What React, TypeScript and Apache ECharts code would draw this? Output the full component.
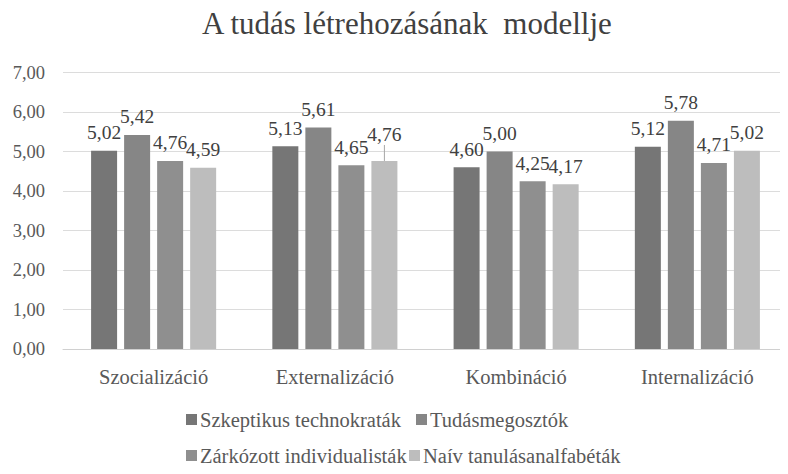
import React, { useEffect, useRef } from "react";
import * as echarts from "echarts";

const title = "A tudás létrehozásának  modellje";
const categories = ["Szocializáció", "Externalizáció", "Kombináció", "Internalizáció"];
const seriesNames = [
  "Szkeptikus technokraták",
  "Tudásmegosztók",
  "Zárkózott individualisták",
  "Naív tanulásanalfabéták",
];
const szkeptikus = [5.02, 5.13, 4.6, 5.12];
const tudasmegosztok = [5.42, 5.61, 5.0, 5.78];
const zarkozott = [4.76, 4.65, 4.25, 4.71];
const naiv = [4.59, 4.76, 4.17, 5.02];
const seriesValues = [szkeptikus, tudasmegosztok, zarkozott, naiv];
const colors = ["#767676", "#868686", "#8f8f8f", "#bdbdbd"];

const FONT = "'Times New Roman', 'Liberation Serif', Tinos, 'DejaVu Serif'";
const fmt = (v: number) => v.toFixed(2).replace(".", ",");

export default function App() {
  const ref = useRef<HTMLDivElement>(null);
  useEffect(() => {
    if (!ref.current) return;
    const chart = echarts.init(ref.current, undefined, { renderer: "svg" });
    const legendPos = [
      { left: 186, top: 409 },
      { left: 416, top: 409 },
      { left: 186, top: 445 },
      { left: 409, top: 445 },
    ];
    chart.setOption({
      animation: false,
      backgroundColor: "#ffffff",
      textStyle: { fontFamily: FONT },
      title: {
        text: title,
        left: 202,
        top: 8,
        padding: 0,
        textStyle: { fontFamily: FONT, fontSize: 31, fontWeight: "normal", color: "#404040" },
      },
      legend: seriesNames.map((n, i) => ({
        data: [n],
        left: legendPos[i].left,
        top: legendPos[i].top,
        padding: 0,
        itemWidth: 11,
        itemHeight: 11,
        icon: "rect",
        itemGap: 0,
        selectedMode: false,
        textStyle: { fontFamily: FONT, fontSize: 20.5, color: "#595959", padding: [0, 0, 0, -2] },
      })),
      grid: { left: 63, top: 72.5, width: 732, height: 276.5, containLabel: false },
      xAxis: {
        type: "category",
        data: categories,
        axisTick: { show: false },
        axisLine: { lineStyle: { color: "#d0d0d0", width: 1 } },
        axisLabel: { fontFamily: FONT, fontSize: 20.5, color: "#595959", margin: 17 },
      },
      yAxis: {
        type: "value",
        min: 0,
        max: 7,
        interval: 1,
        axisLine: { show: false },
        axisTick: { show: false },
        splitLine: { lineStyle: { color: "#dcdcdc", width: 1 } },
        axisLabel: { fontFamily: FONT, fontSize: 18.5, color: "#595959", margin: 18, formatter: (v: number) => fmt(v) },
      },
      series: seriesNames.map((n, si) => ({
        name: n,
        type: "bar",
        barGap: "27%",
        barCategoryGap: "31%",
        itemStyle: { color: colors[si] },
        label: {
          show: true,
          position: "top",
          distance: 8,
          fontFamily: FONT,
          fontSize: 19.5,
          color: "#404040",
          formatter: (p: any) => fmt(p.value),
        },
        labelLine: { show: false },
        labelLayout: si === 3 ? (p: any) => (p.dataIndex === 1 ? { dy: -8 } : {}) : undefined,
        data: seriesValues[si].map((v, i) =>
          si === 3 && i === 1
            ? { value: v, labelLine: { show: true, lineStyle: { color: "#a6a6a6", width: 1 } } }
            : v
        ),
      })),
    });
    return () => chart.dispose();
  }, []);
  return <div ref={ref} style={{ width: 788, height: 474, margin: -8 }} />;
}
